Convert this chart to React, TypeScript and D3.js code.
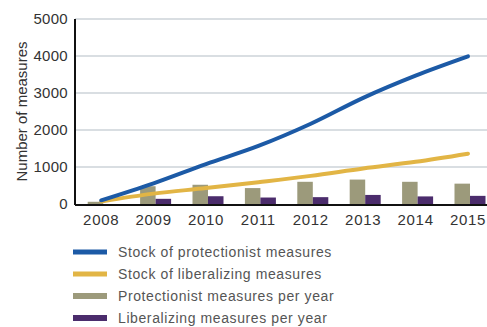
import React from "react";
import * as d3 from "d3";

const years = ["2008", "2009", "2010", "2011", "2012", "2013", "2014", "2015"];
const stockProtectionist = [100, 560, 1080, 1570, 2170, 2870, 3470, 3990];
const stockLiberalizing = [70, 280, 430, 590, 760, 960, 1140, 1360];
const protectionistPerYear = [60, 480, 520, 430, 600, 660, 600, 550];
const liberalizingPerYear = [0, 140, 210, 175, 185, 245, 205, 220];
const yTicks = [0, 1000, 2000, 3000, 4000, 5000];
const legendLabels = [
  "Stock of protectionist measures",
  "Stock of liberalizing measures",
  "Protectionist measures per year",
  "Liberalizing measures per year",
];
const colors = ["#1c5aa6", "#e2b545", "#9c9a7b", "#4b2c6c"];

export default function App() {
  const W = 487;
  const H = 327;
  const left = 75;
  const top = 19;
  const bottom = 204;
  const x = d3.scaleBand<string>().domain(years).range([left, left + 8 * 52.4]).padding(0);
  const y = d3.scaleLinear().domain([0, 5000]).range([bottom, top]);
  const cx = (d: string) => (x(d) as number) + x.bandwidth() / 2;
  const barW = 15.5;

  const line = d3
    .line<number>()
    .x((_, i) => cx(years[i]))
    .y((v) => y(v))
    .curve(d3.curveCatmullRom.alpha(0.5));

  const font = "'Liberation Sans', Arial, sans-serif";

  return (
    <svg
      width={W}
      height={H}
      style={{ position: "absolute", left: 0, top: 0, background: "#fff" }}
      fontFamily={font}
    >
      {/* grid */}
      {yTicks.filter((t) => t > 0).map((t) => (
        <line key={t} x1={left} x2={W} y1={y(t)} y2={y(t)} stroke="#d9dee2" strokeWidth={2} />
      ))}
      {/* y tick labels */}
      {yTicks.map((t) => (
        <text key={t} x={68} y={y(t)} dy="0.36em" textAnchor="end" fontSize={15} letterSpacing={0.3} fill="#333">
          {t}
        </text>
      ))}
      {/* y title */}
      <text
        transform={`translate(27,${(top + bottom) / 2}) rotate(-90)`}
        textAnchor="middle"
        fontSize={15}
        fill="#333"
      >
        Number of measures
      </text>
      {/* bars */}
      {years.map((yr, i) => (
        <g key={yr}>
          <rect
            x={cx(yr) - 13.5}
            y={y(protectionistPerYear[i])}
            width={barW}
            height={bottom - y(protectionistPerYear[i])}
            fill={colors[2]}
          />
          <rect
            x={cx(yr) + 2}
            y={y(liberalizingPerYear[i])}
            width={barW}
            height={bottom - y(liberalizingPerYear[i])}
            fill={colors[3]}
          />
        </g>
      ))}
      {/* lines */}
      <path d={line(stockLiberalizing) || ""} fill="none" stroke={colors[1]} strokeWidth={4} strokeLinecap="round" />
      <path d={line(stockProtectionist) || ""} fill="none" stroke={colors[0]} strokeWidth={4} strokeLinecap="round" />
      {/* axes */}
      <line x1={left} x2={left} y1={top} y2={bottom + 1} stroke="#111" strokeWidth={2} />
      <line x1={left} x2={W} y1={bottom + 1} y2={bottom + 1} stroke="#111" strokeWidth={2} />
      {/* x labels */}
      {years.map((yr) => (
        <text key={yr} x={cx(yr)} y={225} textAnchor="middle" fontSize={15} letterSpacing={0.7} fill="#333">
          {yr}
        </text>
      ))}
      {/* legend */}
      {legendLabels.map((lab, i) => {
        const ly = 252 + i * 22;
        return (
          <g key={lab}>
            <rect x={73} y={ly - (i >= 2 ? 3 : 2.5)} width={34} height={i >= 2 ? 6 : 5} fill={colors[i]} />
            <text x={118} y={ly} dy="0.34em" fontSize={14} letterSpacing={0.6} fill="#555">
              {lab}
            </text>
          </g>
        );
      })}
    </svg>
  );
}
